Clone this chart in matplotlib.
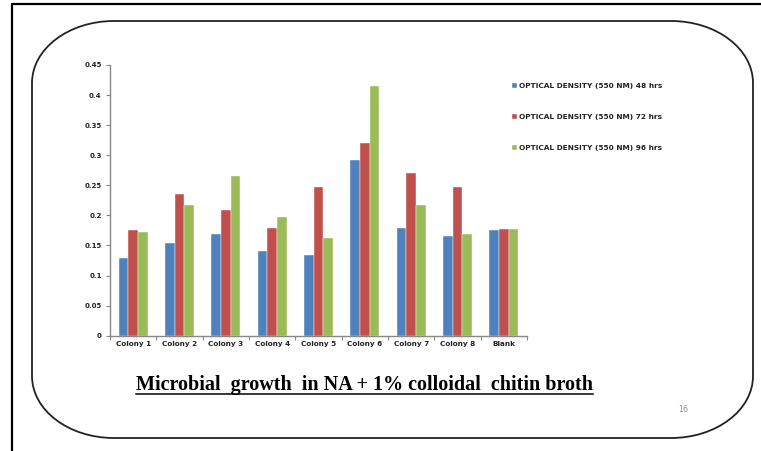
import numpy as np
import matplotlib
matplotlib.use("Agg")
import matplotlib.pyplot as plt
from matplotlib.path import Path
from matplotlib.patches import PathPatch

categories = ["Colony 1", "Colony 2", "Colony 3", "Colony 4", "Colony 5",
              "Colony 6", "Colony 7", "Colony 8", "Blank"]
od_48 = [0.129, 0.154, 0.169, 0.140, 0.134, 0.292, 0.179, 0.165, 0.175]
od_72 = [0.175, 0.236, 0.209, 0.179, 0.248, 0.321, 0.270, 0.248, 0.178]
od_96 = [0.173, 0.217, 0.265, 0.198, 0.163, 0.415, 0.217, 0.169, 0.178]
series_labels = ["OPTICAL DENSITY (550 NM) 48 hrs",
                 "OPTICAL DENSITY (550 NM) 72 hrs",
                 "OPTICAL DENSITY (550 NM) 96 hrs"]
y_ticks = [0, 0.05, 0.1, 0.15, 0.2, 0.25, 0.3, 0.35, 0.4, 0.45]
y_tick_labels = ["0", "0.05", "0.1", "0.15", "0.2", "0.25", "0.3", "0.35", "0.4", "0.45"]
title = "Microbial  growth  in NA + 1% colloidal  chitin broth"
page_number = "16"

colors = ["#4F81BD", "#C0504D", "#9BBB59"]

W, H = 761, 451
fig = plt.figure(figsize=(W / 100, H / 100), dpi=100)

# Background slide frame drawn in pixel coordinates
bg = fig.add_axes([0, 0, 1, 1])
bg.set_xlim(0, W)
bg.set_ylim(H, 0)
bg.axis("off")
bg.plot([12, 12, W + 5], [H + 5, 4, 4], color="black", lw=1.6, solid_capstyle="butt")


def rounded_rect(x0, y0, x1, y1, rx, ry):
    k = 0.5523
    verts = [
        (x0 + rx, y0), (x1 - rx, y0),
        (x1 - rx + k * rx, y0), (x1, y0 + ry - k * ry), (x1, y0 + ry),
        (x1, y1 - ry),
        (x1, y1 - ry + k * ry), (x1 - rx + k * rx, y1), (x1 - rx, y1),
        (x0 + rx, y1),
        (x0 + rx - k * rx, y1), (x0, y1 - ry + k * ry), (x0, y1 - ry),
        (x0, y0 + ry),
        (x0, y0 + ry - k * ry), (x0 + rx - k * rx, y0), (x0 + rx, y0),
    ]
    codes = [Path.MOVETO, Path.LINETO,
             Path.CURVE4, Path.CURVE4, Path.CURVE4,
             Path.LINETO,
             Path.CURVE4, Path.CURVE4, Path.CURVE4,
             Path.LINETO,
             Path.CURVE4, Path.CURVE4, Path.CURVE4,
             Path.LINETO,
             Path.CURVE4, Path.CURVE4, Path.CURVE4]
    return Path(verts, codes)


bg.add_patch(PathPatch(rounded_rect(32, 21, 753, 438, 82, 62),
                       facecolor="none", edgecolor="#222222", lw=1.3))

# Bar chart
ax = fig.add_axes([110 / W, 1 - 335.7 / H, (527 - 110) / W, (335.7 - 65) / H])
x = np.arange(len(categories))
bw = 0.21
for i, (vals, c, lab) in enumerate(zip([od_48, od_72, od_96], colors, series_labels)):
    ax.bar(x + (i - 1) * bw, vals, width=bw, color=c, edgecolor="white",
           linewidth=0.3, label=lab, zorder=2)

ax.set_xlim(-0.5, len(categories) - 0.5)
ax.set_ylim(0, 0.45)
ax.set_yticks(y_ticks)
ax.set_yticklabels(y_tick_labels)
ax.set_xticks(x)
ax.set_xticklabels(categories)
ax.set_xticks(np.arange(-0.5, len(categories), 1.0), minor=True)
ax.tick_params(axis="x", which="major", length=0, pad=4, labelsize=5.2, colors="#222222")
ax.tick_params(axis="x", which="minor", length=3, width=0.8, color="#888888", direction="out")
ax.tick_params(axis="y", length=3, width=0.8, color="#888888", pad=3, labelsize=5.0,
               labelcolor="#222222")
for lbl in ax.get_xticklabels() + ax.get_yticklabels():
    lbl.set_fontweight("bold")
for s in ["top", "right"]:
    ax.spines[s].set_visible(False)
for s in ["left", "bottom"]:
    ax.spines[s].set_color("#888888")
    ax.spines[s].set_linewidth(1.0)

leg = fig.legend(loc="upper left", bbox_to_anchor=(509 / W, 1 - 80 / H),
                 frameon=False, fontsize=5.3, handlelength=0.75, handleheight=0.75,
                 handletextpad=0.25, labelspacing=3.35, borderaxespad=0)
for t in leg.get_texts():
    t.set_fontweight("bold")
    t.set_color("#222222")

# Underlined title
t = fig.text(364 / W, 1 - 385 / H, title, ha="center", va="center",
             fontsize=14.5, fontweight="bold", family="Liberation Serif", color="black")
fig.canvas.draw()
bb = t.get_window_extent(renderer=fig.canvas.get_renderer())
uy = bb.y0 + 1.5
fig.add_artist(plt.Line2D([bb.x0 / W, bb.x1 / W], [uy / H, uy / H],
                          transform=fig.transFigure, color="black", lw=1.1))

fig.text(683 / W, 1 - 410 / H, page_number, ha="center", va="center",
         fontsize=5.8, color="#8a8f99")

fig.savefig("out.png", dpi=100)
